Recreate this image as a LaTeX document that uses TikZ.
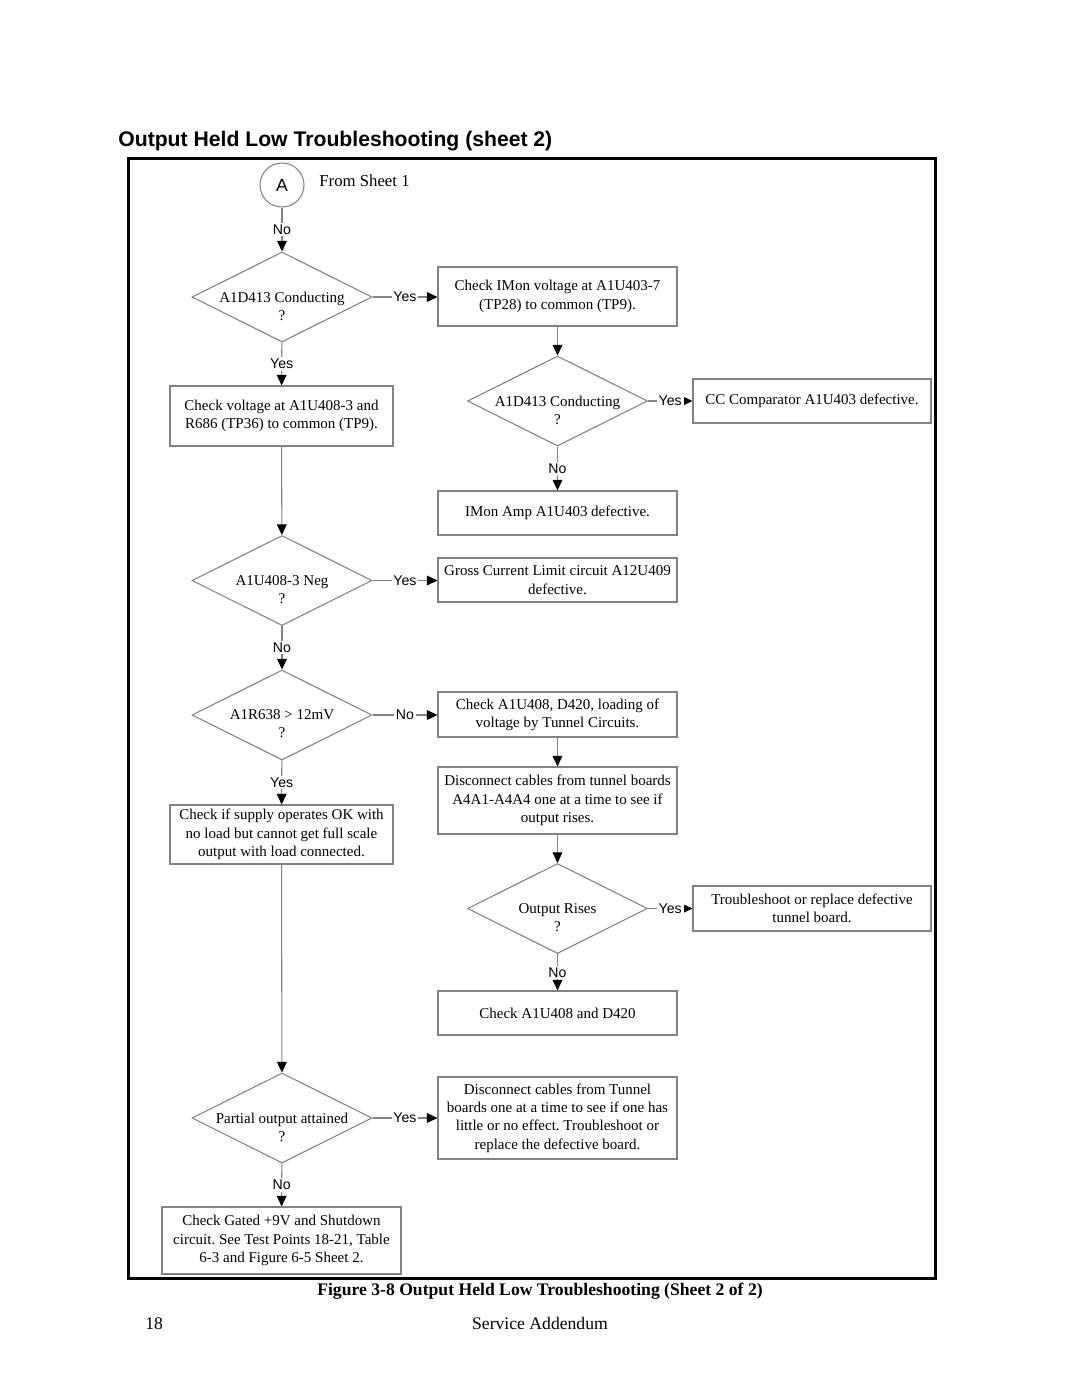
\documentclass[tikz,border=0pt]{standalone}
\usepackage{fontspec}
\setmainfont{Liberation Serif}
\newfontfamily\arialf{Liberation Sans}
\usetikzlibrary{shapes.geometric,arrows.meta}
\def\pxu{0.56693pt}
\definecolor{gc}{RGB}{130,130,130}
\tikzset{
  box/.style={draw=gc, line width=0.6pt, minimum width=239*\pxu, minimum height=44*\pxu,
              inner sep=0pt, align=center, font=\fontsize{8.5}{10.4}\selectfont},
  dia/.style={draw=gc, diamond, minimum width=180*\pxu, minimum height=90*\pxu,
              inner sep=0pt, line width=0.6pt},
  dtext/.style={align=center, inner sep=0pt, yshift=-9*\pxu, font=\fontsize{8.5}{10.2}\selectfont},
  lab/.style={fill=white, inner sep=1pt, font=\arialf\fontsize{8}{9.6}\selectfont},
  conn/.style={draw=gc, line width=0.6pt, -{Triangle[length=6pt,width=5.5pt,color=black,fill=black]}}
}
\begin{document}
\frenchspacing
\begin{tikzpicture}[x=\pxu, y=-\pxu]
\useasboundingbox (0,0) rectangle (1080,1397);
% title
\node[anchor=base west, inner sep=0pt, font=\arialf\bfseries\fontsize{12}{14}\selectfont] (title) at (118,146) {Output Held Low Troubleshooting (sheet 2)};
% frame
\draw[line width=1.7pt] (128.5,158.5) rectangle (935.5,1278.5);
% start
\node[draw=gc, circle, line width=0.6pt, minimum size=44*\pxu, inner sep=0pt, font=\arialf\fontsize{10}{12}\selectfont] (a) at (282,185) {A};
\node[anchor=base west, inner sep=0pt, font=\fontsize{9.5}{11.4}\selectfont] (from) at (319,186) {From Sheet 1};
% left column
\node[dia] (d1) at (282,297) {};
\node[dtext] (d1t) at (d1) {A1D413 Conducting\\?};
\node[box, minimum width=223*\pxu, minimum height=60*\pxu] (l1) at (281.5,416) {Check voltage at A1U408-3 and\\R686 (TP36) to common (TP9).};
\node[dia] (d3) at (282,580.5) {};
\node[dtext] (d3t) at (d3) {A1U408-3 Neg\\?};
\node[dia] (d4) at (282,715) {};
\node[dtext] (d4t) at (d4) {A1R638 > 12mV\\?};
\node[box, minimum width=223*\pxu, minimum height=59*\pxu] (l2) at (281.5,834.5) {Check if supply operates OK with\\no load but cannot get full scale\\output with load connected.};
\node[dia] (d6) at (282,1118) {};
\node[dtext] (d6t) at (d6) {Partial output attained\\?};
\node[box, minimum height=67*\pxu] (l3) at (281.5,1240.5) {Check Gated +9V and Shutdown\\circuit. See Test Points 18-21, Table\\6-3 and Figure 6-5 Sheet 2.};
% middle column
\node[box, minimum height=59*\pxu] (b1) at (557.5,296.5) {Check IMon voltage at A1U403-7\\(TP28) to common (TP9).};
\node[dia] (d2) at (557.5,401) {};
\node[dtext] (d2t) at (d2) {A1D413 Conducting\\?};
\node[box] (imon) at (557.5,513) {IMon Amp A1U403 defective.};
\node[box] (gross) at (557.5,580) {Gross Current Limit circuit A12U409\\defective.};
\node[box, minimum height=45*\pxu] (chk) at (557.5,714.5) {Check A1U408, D420, loading of\\voltage by Tunnel Circuits.};
\node[box, minimum height=67*\pxu] (disc) at (557.5,800.5) {Disconnect cables from tunnel boards\\A4A1-A4A4 one at a time to see if\\output rises.};
\node[dia] (d5) at (557.5,908.5) {};
\node[dtext] (d5t) at (d5) {Output Rises\\?};
\node[box] (chk2) at (557.5,1013) {Check A1U408 and D420};
\node[box, minimum height=82*\pxu] (disct) at (557.5,1118) {Disconnect cables from Tunnel\\boards one at a time to see if one has\\little or no effect. Troubleshoot or\\replace the defective board.};
% right column
\node[box, minimum width=238*\pxu] (cc) at (812,401) {CC Comparator A1U403 defective.};
\node[box, minimum width=238*\pxu, minimum height=45*\pxu] (trb) at (812,908.5) {Troubleshoot or replace defective\\tunnel board.};
% connectors
\draw[conn] (a) -- node[lab]{No} (d1);
\draw[conn] (d1.east) -- node[lab]{Yes} (d1.east -| b1.west);
\draw[conn] (d1) -- node[lab]{Yes} (l1);
\draw[conn] (b1) -- (d2);
\draw[conn] (d2.east) -- node[lab]{Yes} (d2.east -| cc.west);
\draw[conn] (d2) -- node[lab]{No} (imon);
\draw[conn] (l1) -- (d3);
\draw[conn] (d3.east) -- node[lab]{Yes} (d3.east -| gross.west);
\draw[conn] (d3) -- node[lab]{No} (d4);
\draw[conn] (d4.east) -- node[lab]{No} (d4.east -| chk.west);
\draw[conn] (d4) -- node[lab]{Yes} (l2);
\draw[conn] (chk) -- (disc);
\draw[conn] (disc) -- (d5);
\draw[conn] (d5.east) -- node[lab]{Yes} (d5.east -| trb.west);
\draw[conn] (d5) -- node[lab]{No} (chk2);
\draw[conn] (l2) -- (d6);
\draw[conn] (d6.east) -- node[lab]{Yes} (d6.east -| disct.west);
\draw[conn] (d6) -- node[lab]{No} (l3);
% caption and footer
\node[anchor=base, inner sep=0pt, font=\bfseries\fontsize{10}{12}\selectfont] (cap) at (540,1295) {Figure 3-8 Output Held Low Troubleshooting (Sheet 2 of 2)};
\node[anchor=base west, inner sep=0pt, font=\fontsize{10}{12}\selectfont] (pg) at (145,1329) {18};
\node[anchor=base, inner sep=0pt, font=\fontsize{10}{12}\selectfont] (foot) at (540,1329) {Service Addendum};
\end{tikzpicture}
\end{document}
